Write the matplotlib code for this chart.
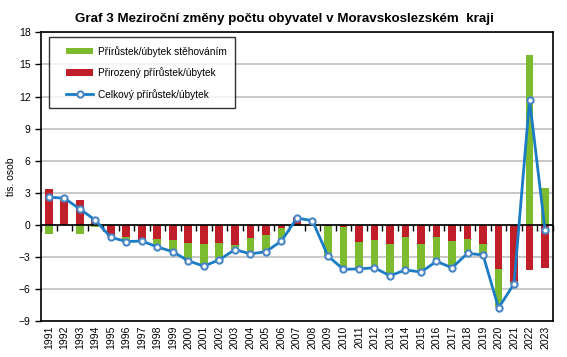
import numpy as np
import matplotlib.pyplot as plt
from matplotlib.legend_handler import HandlerPatch, HandlerLine2D

plt.rcParams['font.family'] = ['Liberation Sans', 'DejaVu Sans']

years = [str(y) for y in range(1991, 2024)]
# prirozeny prirustek / ubytek (tis. osob)
natural = [3.4, 2.2, 2.3, 0.6, -1.05, -1.1, -1.4, -1.35, -1.45, -1.65,
           -1.75, -1.7, -1.9, -1.25, -0.9, -0.3, 0.75, 0.42, -0.05, -0.2,
           -1.6, -1.4, -1.75, -1.15, -1.75, -1.15, -1.5, -1.3, -1.75, -4.1,
           -5.35, -4.2, -4.0]
# prirustek / ubytek stehovanim
migration = [-0.8, 0.3, -0.8, -0.15, -0.1, -0.45, -0.1, -0.7, -1.05, -1.7,
             -2.1, -1.55, -0.4, -1.5, -1.6, -1.2, -0.1, -0.05, -2.85, -3.95,
             -2.5, -2.6, -3.0, -3.05, -2.65, -2.25, -2.5, -1.3, -1.05, -3.6,
             -0.15, 15.9, 3.5]
# celkovy prirustek / ubytek
total = [2.6, 2.5, 1.5, 0.45, -1.15, -1.55, -1.5, -2.05, -2.5, -3.35,
         -3.85, -3.25, -2.3, -2.7, -2.5, -1.5, 0.65, 0.4, -2.9, -4.15,
         -4.1, -4.0, -4.75, -4.2, -4.4, -3.4, -4.0, -2.65, -2.8, -7.75,
         -5.5, 11.7, -0.5]

green = '#7cbb2d'
red = '#c01f2a'
blue = '#1a7cc4'

SHIFT = 6  # pt of empty room left of legend keys


class ShiftedPatch(HandlerPatch):
    def create_artists(self, legend, orig_handle, xdescent, ydescent,
                       width, height, fontsize, trans):
        return super().create_artists(legend, orig_handle, xdescent - SHIFT,
                                      ydescent, width - SHIFT, height,
                                      fontsize, trans)


class ShiftedLine(HandlerLine2D):
    def create_artists(self, legend, orig_handle, xdescent, ydescent,
                       width, height, fontsize, trans):
        return super().create_artists(legend, orig_handle, xdescent - SHIFT,
                                      ydescent, width - SHIFT, height,
                                      fontsize, trans)


nat = np.array(natural)
mig = np.array(migration)
x = np.arange(len(years))
# stack migration on top of natural only when both have the same sign
mig_bottom = np.where(np.sign(mig) == np.sign(nat), nat, 0)

fig = plt.figure(figsize=(5.67, 3.57), dpi=100)
ax = fig.add_axes([0.0723, 0.1, 0.9027, 0.8095])

w = 0.5
b_nat = ax.bar(x, nat, width=w, color=red, zorder=2)
b_mig = ax.bar(x, mig, width=w, bottom=mig_bottom, color=green, zorder=2)
ln, = ax.plot(x, total, color=blue, lw=2, marker='o', ms=4.5, mfc='white',
              mec='#4a86c5', mew=1.5, zorder=4)

ax.set_xlim(-0.5, len(years) - 0.5)
ax.set_ylim(-9, 18)
ax.set_yticks(np.arange(-9, 19, 3))
ax.yaxis.grid(True, color='#bfbfbf', lw=1.2, zorder=0)
ax.set_axisbelow(True)
ax.axhline(0, color='black', lw=1.2, zorder=3)

ax.set_xticks(x)
ax.set_xticklabels(years, rotation=90, fontsize=7.5)
ax.tick_params(axis='x', length=0, pad=3)
ax.tick_params(axis='y', labelsize=7.5, length=4, width=1, direction='out')
for s in ax.spines.values():
    s.set_color('black')
    s.set_linewidth(1.2)

# category tick marks on the zero line
sec = ax.secondary_xaxis(9 / 27)
sec.set_xticks(np.arange(-0.5, len(years), 1))
sec.tick_params(axis='x', length=4, width=1, direction='out', labelbottom=False,
                labeltop=False, top=False, bottom=True)
sec.spines['bottom'].set_visible(False)
sec.spines['top'].set_visible(False)

ax.set_ylabel('tis. osob', fontsize=7.5, labelpad=2)
fig.text(0.502, 0.948,
         'Graf 3 Meziroční změny počtu obyvatel v Moravskoslezském  kraji',
         fontsize=9.6, fontweight='bold', ha='center', va='center')

leg = ax.legend([b_mig[0], b_nat[0], ln],
                ['Přírůstek/úbytek stěhováním', 'Přirozený přírůstek/úbytek',
                 'Celkový přírůstek/úbytek'],
                loc='upper left', bbox_to_anchor=(0.012, 0.99), fontsize=7.3,
                frameon=True, fancybox=False, edgecolor='black',
                handlelength=3.5, handleheight=0.6, borderpad=0.85,
                labelspacing=1.05, handletextpad=0.45, borderaxespad=0.2,
                handler_map={type(b_mig[0]): ShiftedPatch(),
                             type(ln): ShiftedLine()})
leg.get_frame().set_linewidth(1.0)

fig.savefig('out.png', dpi=100)
